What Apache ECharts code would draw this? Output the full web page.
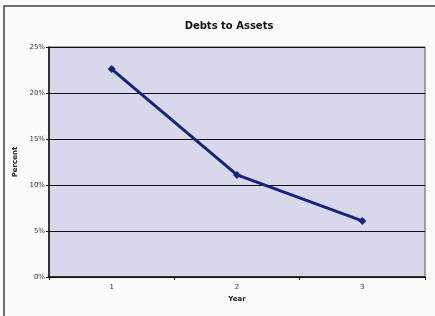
<!DOCTYPE html>
<html>
<head>
<meta charset="utf-8">
<script src="https://cdn.jsdelivr.net/npm/echarts@6/dist/echarts.min.js"></script>
<style>
  html, body { margin: 0; padding: 0; background: #fbfbfb; }
  #chart { width: 435px; height: 316px; }
</style>
</head>
<body>
<div id="chart"></div>
<script>
const years = ["1", "2", "3"];
const debtsToAssets = [22.6, 11.1, 6.1];
const yTicks = [0, 5, 10, 15, 20, 25];

const chart = echarts.init(document.getElementById("chart"));
const font = "DejaVu Sans, Verdana, sans-serif";

chart.setOption({
  backgroundColor: "#fbfbfb",
  animation: false,
  title: {
    text: "Debts to Assets",
    left: 224,
    top: 16,
    textAlign: "center",
    textStyle: { fontFamily: font, fontSize: 10, fontWeight: "bold", color: "#111" },
  },
  graphic: [
    {
      type: "polyline",
      shape: { points: [[4, 316], [4, 6], [435, 6]] },
      style: { stroke: "#444", lineWidth: 1.5, fill: null },
    },
  ],
  grid: {
    left: 49,
    right: 10,
    top: 47,
    bottom: 39,
    show: true,
    backgroundColor: "#d8d8ea",
    borderColor: "#555",
    borderWidth: 1,
  },
  xAxis: {
    type: "category",
    data: years,
    boundaryGap: true,
    name: "Year",
    nameLocation: "middle",
    nameGap: 19,
    nameTextStyle: { fontFamily: font, fontSize: 7, fontWeight: "bold", color: "#222" },
    axisLine: { lineStyle: { color: "#111", width: 1.5 } },
    axisTick: { show: true, length: 3, lineStyle: { color: "#111" } },
    axisLabel: { fontFamily: font, fontSize: 7, color: "#333", margin: 7 },
  },
  yAxis: {
    type: "value",
    min: yTicks[0],
    max: yTicks[yTicks.length - 1],
    interval: 5,
    name: "Percent",
    nameLocation: "middle",
    nameGap: 25,
    nameRotate: 90,
    nameTextStyle: { fontFamily: font, fontSize: 7, fontWeight: "bold", color: "#222" },
    axisLine: { show: true, lineStyle: { color: "#111", width: 1.5 } },
    axisTick: { show: true, length: 3, lineStyle: { color: "#111" } },
    axisLabel: { fontFamily: font, fontSize: 7, color: "#333", formatter: "{value}%", margin: 4 },
    splitLine: { lineStyle: { color: "#111", width: 1.2 } },
  },
  series: [
    {
      type: "line",
      data: debtsToAssets,
      symbol: "diamond",
      symbolSize: 8,
      lineStyle: { color: "#14237e", width: 3 },
      itemStyle: { color: "#14237e" },
    },
  ],
});
</script>
</body>
</html>
